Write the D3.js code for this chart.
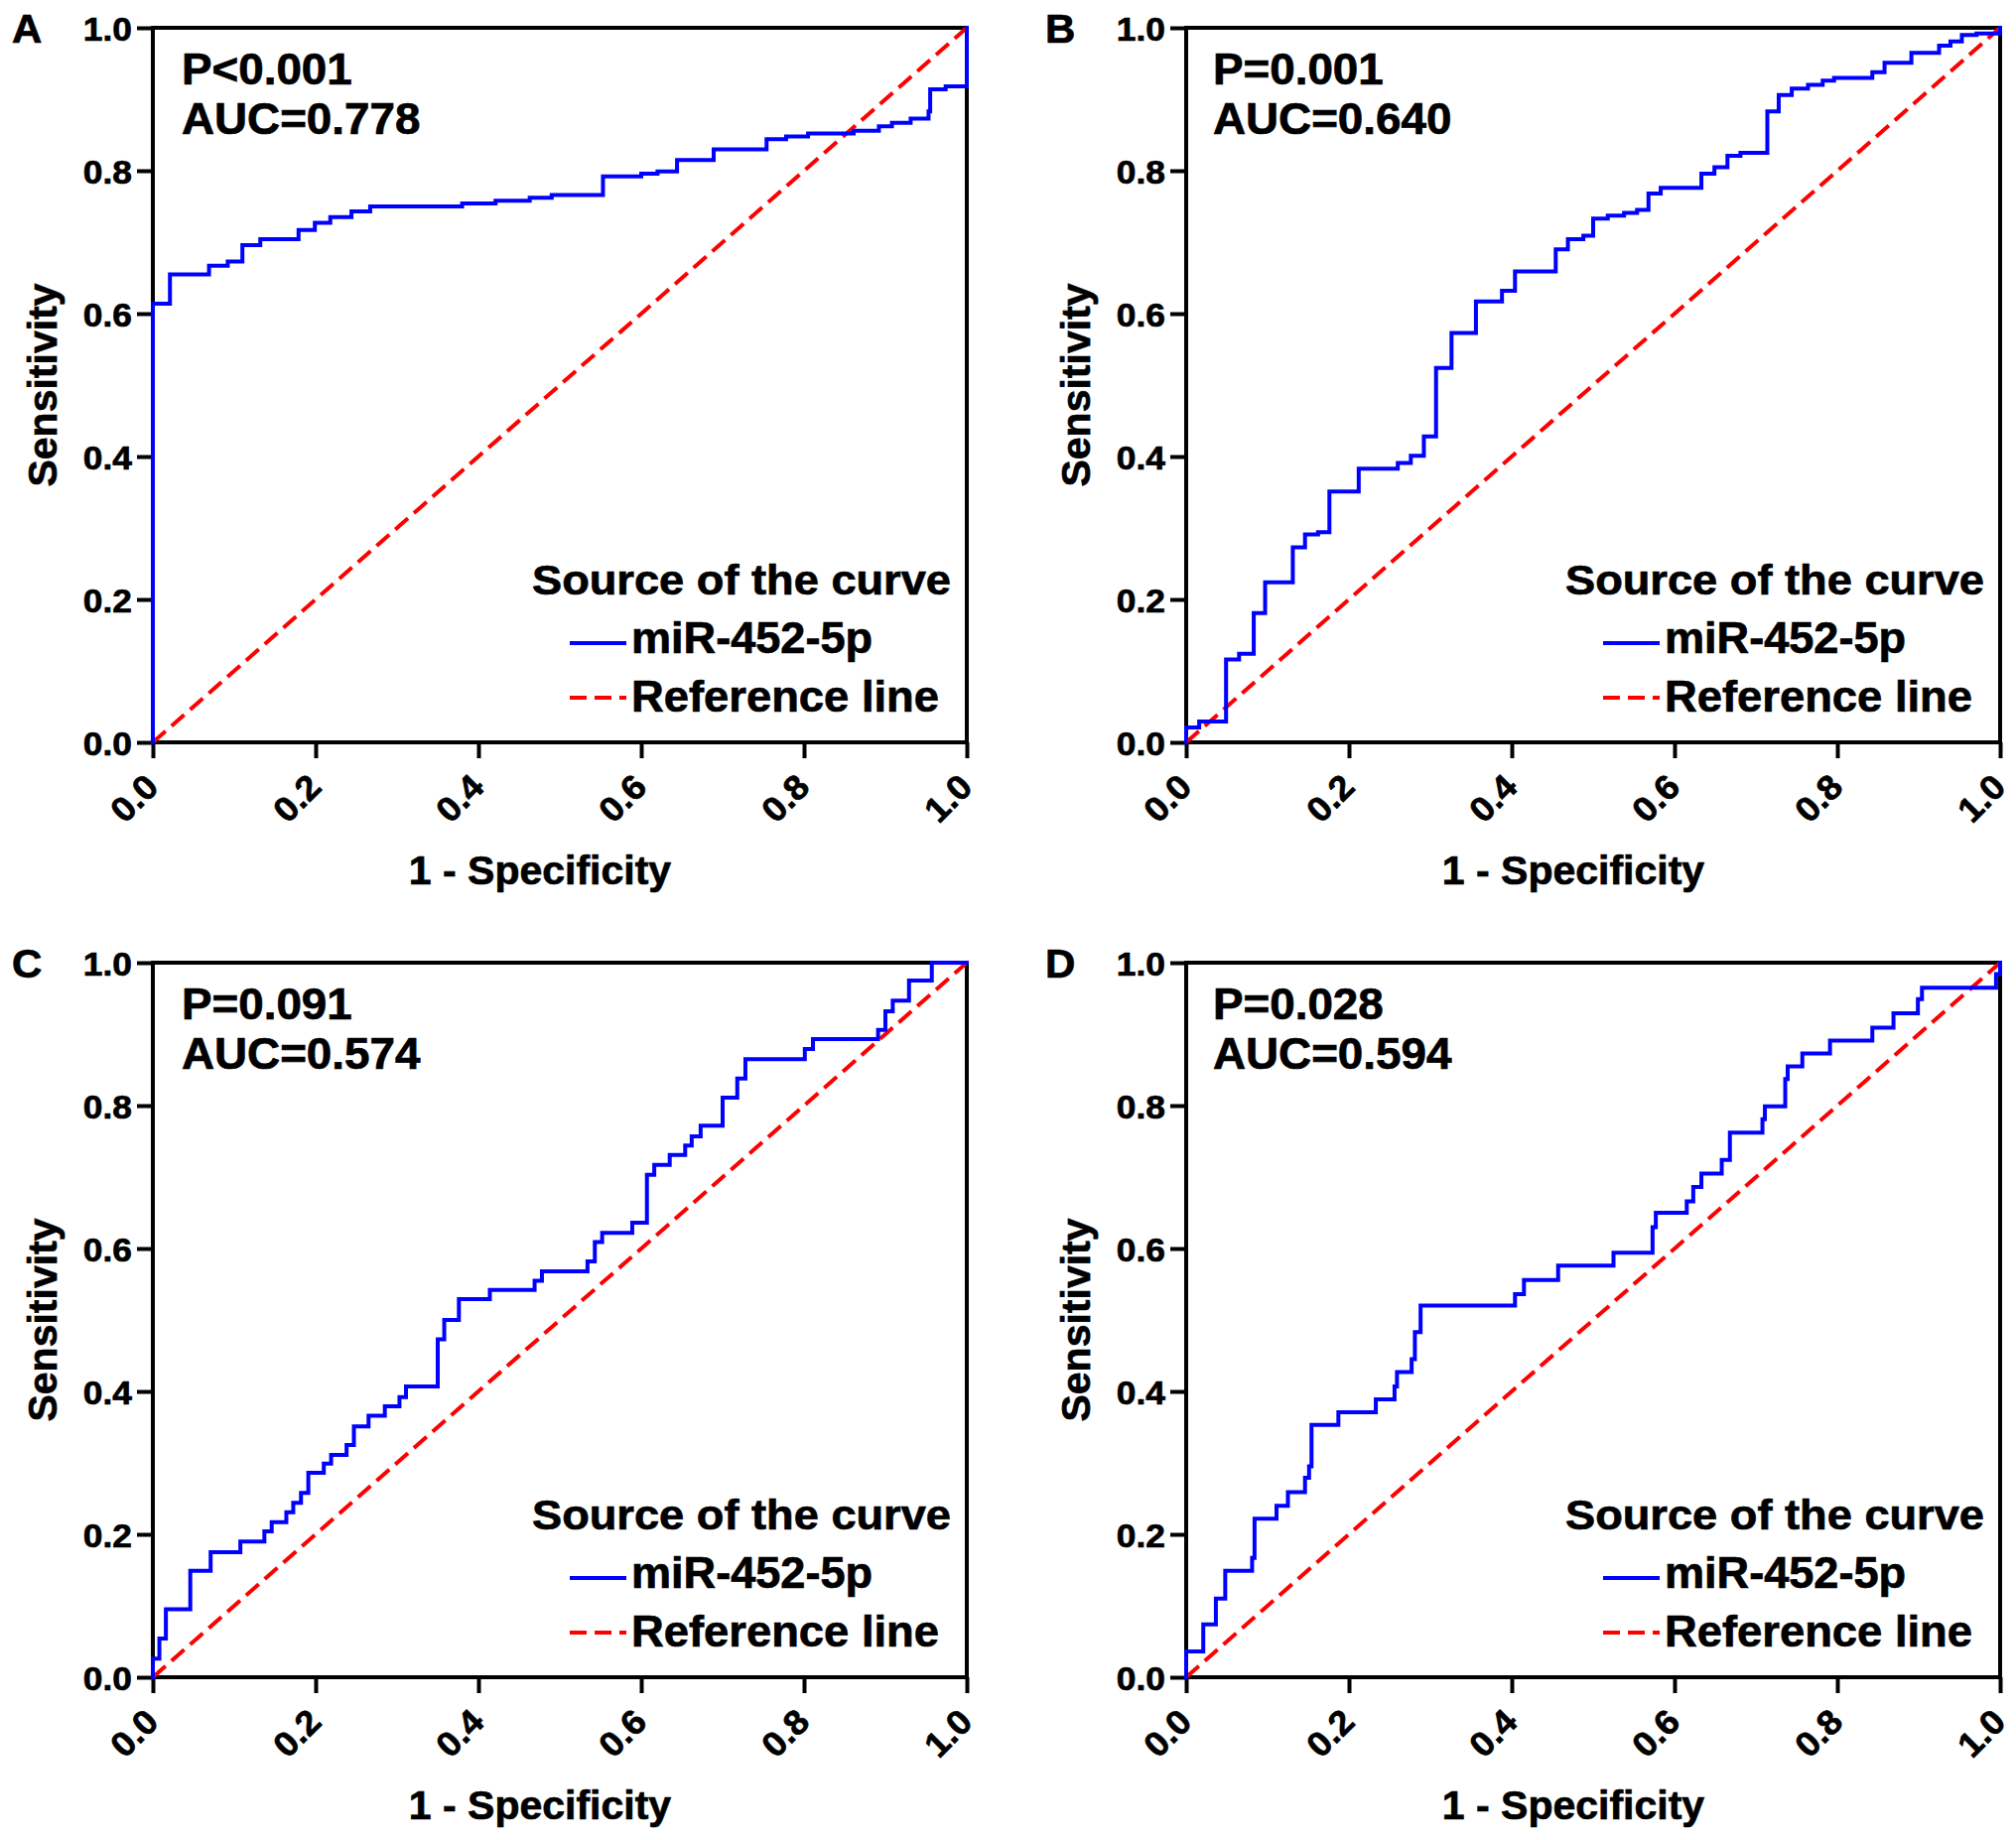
<!DOCTYPE html>
<html>
<head>
<meta charset="utf-8">
<script src="https://cdn.jsdelivr.net/npm/d3@7/dist/d3.min.js"></script>
<style>
  html, body { margin: 0; padding: 0; background: #ffffff; }
  svg { display: block; }
  text { font-family: "Liberation Sans", Arial, Helvetica, sans-serif; font-weight: bold; fill: #000; stroke: #000; stroke-width: 0.7px; }
</style>
</head>
<body>
<svg id="chart" width="2031" height="1854"></svg>
<script>
// ---------------- DATA ----------------
const panelLabels = ["A", "B", "C", "D"];
const pTexts = ["P<0.001", "P=0.001", "P=0.091", "P=0.028"];
const aucTexts = ["AUC=0.778", "AUC=0.640", "AUC=0.574", "AUC=0.594"];
const tickValues = [0.0, 0.2, 0.4, 0.6, 0.8, 1.0];
const xTitle = "1 - Specificity";
const yTitle = "Sensitivity";
const legendTitle = "Source of the curve";
const seriesNames = ["miR-452-5p", "Reference line"];
const refX = [0, 1];
const refY = [0, 1];

// ROC staircase vertices: 1-specificity where sensitivity steps, sensitivity after the step
const fprA = [0, 0, 0.021, 0.069, 0.092, 0.110, 0.132, 0.179, 0.199, 0.218, 0.244, 0.267, 0.380, 0.421, 0.463, 0.490, 0.553, 0.600, 0.620, 0.644, 0.689, 0.754, 0.778, 0.805, 0.861, 0.892, 0.908, 0.931, 0.953, 0.955, 0.974, 1.0];
const tprA = [0, 0.614, 0.655, 0.667, 0.673, 0.696, 0.704, 0.717, 0.727, 0.735, 0.743, 0.750, 0.754, 0.758, 0.762, 0.766, 0.792, 0.796, 0.799, 0.815, 0.830, 0.844, 0.848, 0.852, 0.856, 0.862, 0.867, 0.873, 0.883, 0.914, 0.918, 1.0];

const fprB = [0, 0, 0.016, 0.049, 0.065, 0.083, 0.097, 0.131, 0.146, 0.162, 0.176, 0.212, 0.260, 0.276, 0.292, 0.307, 0.326, 0.356, 0.388, 0.404, 0.454, 0.469, 0.488, 0.500, 0.518, 0.538, 0.554, 0.568, 0.583, 0.633, 0.649, 0.665, 0.681, 0.714, 0.728, 0.744, 0.764, 0.782, 0.796, 0.843, 0.858, 0.891, 0.925, 0.939, 0.953, 0.971, 1.0];
const tprB = [0, 0.021, 0.029, 0.116, 0.124, 0.181, 0.224, 0.273, 0.291, 0.294, 0.351, 0.383, 0.391, 0.401, 0.428, 0.524, 0.573, 0.617, 0.632, 0.659, 0.690, 0.704, 0.709, 0.733, 0.737, 0.741, 0.745, 0.768, 0.776, 0.796, 0.805, 0.821, 0.825, 0.883, 0.906, 0.915, 0.920, 0.926, 0.930, 0.938, 0.951, 0.965, 0.975, 0.981, 0.990, 0.992, 1.0];

const fprC = [0, 0, 0.008, 0.016, 0.046, 0.071, 0.1075, 0.137, 0.146, 0.164, 0.1725, 0.182, 0.191, 0.210, 0.219, 0.238, 0.247, 0.265, 0.285, 0.303, 0.311, 0.350, 0.358, 0.376, 0.414, 0.469, 0.478, 0.534, 0.543, 0.552, 0.589, 0.607, 0.616, 0.635, 0.654, 0.662, 0.673, 0.700, 0.718, 0.728, 0.801, 0.811, 0.891, 0.900, 0.909, 0.929, 0.957, 1.0];
const tprC = [0, 0.026, 0.054, 0.095, 0.149, 0.175, 0.190, 0.204, 0.217, 0.231, 0.244, 0.258, 0.286, 0.299, 0.311, 0.325, 0.351, 0.366, 0.379, 0.392, 0.407, 0.473, 0.500, 0.529, 0.542, 0.555, 0.568, 0.582, 0.609, 0.622, 0.636, 0.703, 0.717, 0.731, 0.744, 0.757, 0.772, 0.811, 0.838, 0.865, 0.879, 0.893, 0.906, 0.932, 0.947, 0.975, 1.0, 1.0];

const fprD = [0, 0, 0.021, 0.0365, 0.048, 0.081, 0.084, 0.111, 0.125, 0.146, 0.151, 0.154, 0.187, 0.233, 0.256, 0.259, 0.277, 0.281, 0.288, 0.404, 0.415, 0.457, 0.525, 0.573, 0.577, 0.615, 0.623, 0.633, 0.658, 0.668, 0.708, 0.711, 0.736, 0.739, 0.757, 0.791, 0.843, 0.869, 0.899, 0.904, 0.995, 1.0];
const tprD = [0, 0.036, 0.074, 0.110, 0.149, 0.167, 0.222, 0.240, 0.259, 0.279, 0.295, 0.353, 0.371, 0.389, 0.407, 0.427, 0.445, 0.483, 0.520, 0.536, 0.556, 0.576, 0.594, 0.630, 0.650, 0.666, 0.686, 0.705, 0.724, 0.762, 0.781, 0.799, 0.837, 0.855, 0.873, 0.891, 0.909, 0.929, 0.949, 0.965, 0.984, 1.0];

const fprs = [fprA, fprB, fprC, fprD];
const tprs = [tprA, tprB, tprC, tprD];

// ---------------- LAYOUT / STYLE ----------------
const layout = {
  lefts: [154, 1195, 154, 1195],
  tops: [28, 28, 970, 970],
  width: 820,
  height: 720
};
const BLUE = "#0000ff";
const RED = "#ff0000";
const AXIS_W = 4;
const LINE_W = 4;
const DASH = "17,8";

const svg = d3.select("#chart");
svg.append("rect").attr("width", 2031).attr("height", 1854).attr("fill", "#fff");

function widen(sel, factor) {
  sel.each(function () {
    const len = this.getComputedTextLength();
    if (len > 0) d3.select(this).attr("textLength", len * factor).attr("lengthAdjust", "spacingAndGlyphs");
  });
}

panelLabels.forEach((lab, i) => {
  const L = layout.lefts[i], T = layout.tops[i], W = layout.width, H = layout.height;
  const x = d3.scaleLinear().domain([0, 1]).range([0, W]);
  const y = d3.scaleLinear().domain([0, 1]).range([H, 0]);
  const g = svg.append("g").attr("transform", `translate(${L},${T})`);

  // Panel letter
  g.append("text").attr("x", -142).attr("y", 15).attr("font-size", 40).text(lab).call(widen, 1.05);

  // Y axis
  const ya = g.append("g").call(
    d3.axisLeft(y).tickValues(tickValues).tickSize(16).tickPadding(5).tickFormat(d3.format(".1f"))
  );
  ya.select(".domain").remove();
  ya.selectAll(".tick line").attr("stroke", "#000").attr("stroke-width", AXIS_W);
  ya.selectAll(".tick text").attr("font-size", 34).attr("font-family", null)
    .attr("dy", "0.36em").attr("fill", "#000").call(widen, 1.04);

  // X axis
  const xa = g.append("g").attr("transform", `translate(0,${H})`).call(
    d3.axisBottom(x).tickValues(tickValues).tickSize(16).tickPadding(5).tickFormat(d3.format(".1f"))
  );
  xa.select(".domain").remove();
  xa.selectAll(".tick line").attr("stroke", "#000").attr("stroke-width", AXIS_W);
  xa.selectAll(".tick text").attr("font-size", 35).attr("font-family", null)
    .attr("fill", "#000")
    .attr("x", 0).attr("y", 0).attr("dy", null)
    .attr("text-anchor", "end")
    .attr("transform", "translate(7,47) rotate(-45)")
    .call(widen, 1.04);

  // Frame
  g.append("rect").attr("x", 0).attr("y", 0).attr("width", W).attr("height", H)
    .attr("fill", "none").attr("stroke", "#000").attr("stroke-width", AXIS_W);

  // Axis titles
  g.append("text").attr("x", W / 2 - 20).attr("y", H + 143).attr("text-anchor", "middle")
    .attr("font-size", 41).text(xTitle);
  g.append("text").attr("transform", `translate(-97,${H / 2}) rotate(-90)`).attr("text-anchor", "middle")
    .attr("font-size", 41).text(yTitle);

  // P / AUC
  const px = (i % 2 === 0) ? 29 : 27;
  g.append("text").attr("x", px).attr("y", 57).attr("font-size", 44).text(pTexts[i]).call(widen, 1.04);
  g.append("text").attr("x", px).attr("y", 107).attr("font-size", 44).text(aucTexts[i]).call(widen, 1.04);

  // Reference line
  const refPts = refX.map((v, k) => [v, refY[k]]);
  g.append("path").datum(refPts)
    .attr("d", d3.line().x(d => x(d[0])).y(d => y(d[1])))
    .attr("fill", "none").attr("stroke", RED).attr("stroke-width", LINE_W).attr("stroke-dasharray", DASH);

  // ROC curve
  const pts = fprs[i].map((v, k) => [v, tprs[i][k]]);
  g.append("path").datum(pts)
    .attr("d", d3.line().curve(d3.curveStepAfter).x(d => x(d[0])).y(d => y(d[1])))
    .attr("fill", "none").attr("stroke", BLUE).attr("stroke-width", LINE_W)
    .attr("stroke-linejoin", "miter").attr("stroke-linecap", "square");

  // Legend
  const lg = g.append("g").attr("transform", `translate(${W},${H})`);
  lg.append("text").attr("x", -438).attr("y", -149).attr("font-size", 43)
    .attr("textLength", 422).attr("lengthAdjust", "spacingAndGlyphs").text(legendTitle);
  lg.append("line").attr("x1", -400).attr("x2", -343).attr("y1", -100).attr("y2", -100)
    .attr("stroke", BLUE).attr("stroke-width", LINE_W);
  lg.append("text").attr("x", -338).attr("y", -90).attr("font-size", 45)
    .attr("textLength", 243).attr("lengthAdjust", "spacingAndGlyphs").text(seriesNames[0]);
  lg.append("line").attr("x1", -400).attr("x2", -343).attr("y1", -45).attr("y2", -45)
    .attr("stroke", RED).attr("stroke-width", LINE_W).attr("stroke-dasharray", DASH);
  lg.append("text").attr("x", -338).attr("y", -31).attr("font-size", 45)
    .attr("textLength", 310).attr("lengthAdjust", "spacingAndGlyphs").text(seriesNames[1]);
});
</script>
</body>
</html>
